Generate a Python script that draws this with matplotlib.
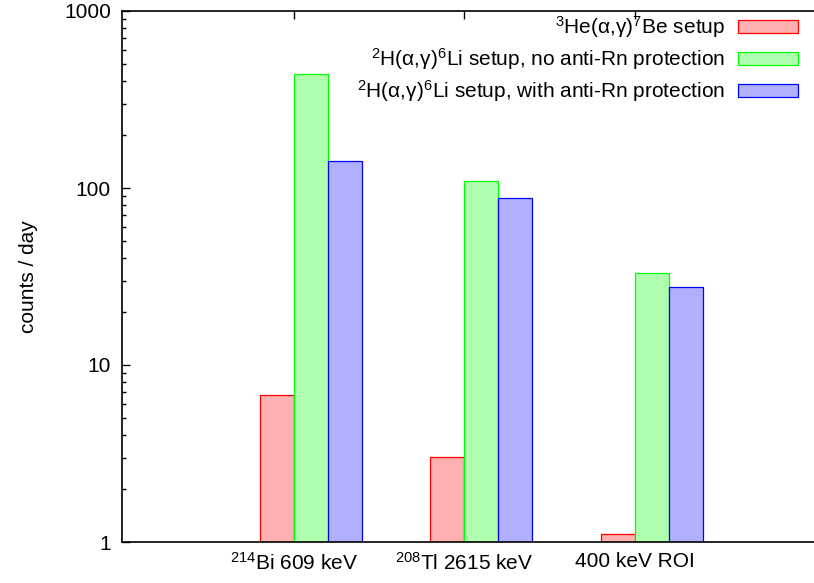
import numpy as np
import matplotlib
matplotlib.use("Agg")
import matplotlib.pyplot as plt
from matplotlib.patches import Patch

plt.rcParams['font.family'] = ['Liberation Sans', 'DejaVu Sans']
plt.rcParams['mathtext.fontset'] = 'custom'
plt.rcParams['mathtext.rm'] = 'Liberation Sans'
plt.rcParams['mathtext.default'] = 'regular'

# counts per day for each line, per setup
lines = [r'$^{214}$Bi 609 keV', r'$^{208}$Tl 2615 keV', '400 keV ROI']
he3_setup = [6.8, 3.02, 1.11]
d2_no_rn = [441, 110, 33]
d2_with_rn = [142, 88, 27.6]

series_labels = [
    r'$^{3}$He(α,γ)$^{7}$Be setup',
    r'$^{2}$H(α,γ)$^{6}$Li setup, no anti-Rn protection',
    r'$^{2}$H(α,γ)$^{6}$Li setup, with anti-Rn protection',
]
fills = ['#ffb0b0', '#b0ffb0', '#b0b0ff']
edges = ['#ff0000', '#00ff00', '#0000ff']

fs = 15

fig = plt.figure(figsize=(8.14, 5.83), dpi=100)
ax = fig.add_axes([122 / 814, 41 / 583, 700 / 814, 531 / 583])

x = np.arange(len(lines))
width = 0.2
offsets = [-0.1, 0.1, 0.3]
for vals, off, fc, ec in zip([he3_setup, d2_no_rn, d2_with_rn], offsets, fills, edges):
    ax.bar(x + off, vals, width, color=fc, edgecolor=ec, linewidth=0.9)

ax.set_yscale('log')
ax.set_ylim(1, 1000)
ax.set_xlim(-1.01, 3.1)
ax.set_yticks([1, 10, 100, 1000])
ax.set_yticklabels(['1', '10', '100', '1000'])
ax.set_xticks(x)
ax.set_xticklabels(lines)

ax.tick_params(axis='y', which='both', direction='in', left=True, right=False, labelsize=fs, pad=8)
ax.tick_params(axis='y', which='major', length=6, width=1)
ax.tick_params(axis='y', which='minor', length=3, width=1)
ax.tick_params(axis='x', direction='in', bottom=False, top=True, length=6, width=1,
               labelsize=fs, pad=7)
for s in ax.spines.values():
    s.set_linewidth(1.2)
ax.spines['right'].set_visible(False)

ax.set_ylabel('counts / day', fontsize=fs, labelpad=19)

handles = [Patch(facecolor=fc, edgecolor=ec, linewidth=0.9) for fc, ec in zip(fills, edges)]
ax.legend(handles, series_labels, loc='upper right',
          bbox_to_anchor=(798 / 814, 1 - 14 / 583), bbox_transform=fig.transFigure,
          markerfirst=False, frameon=False, fontsize=fs,
          handlelength=2.9, handleheight=0.6, handletextpad=0.6, labelspacing=0.3,
          borderaxespad=0.0, borderpad=0.0)

fig.savefig('out.png', dpi=100)
